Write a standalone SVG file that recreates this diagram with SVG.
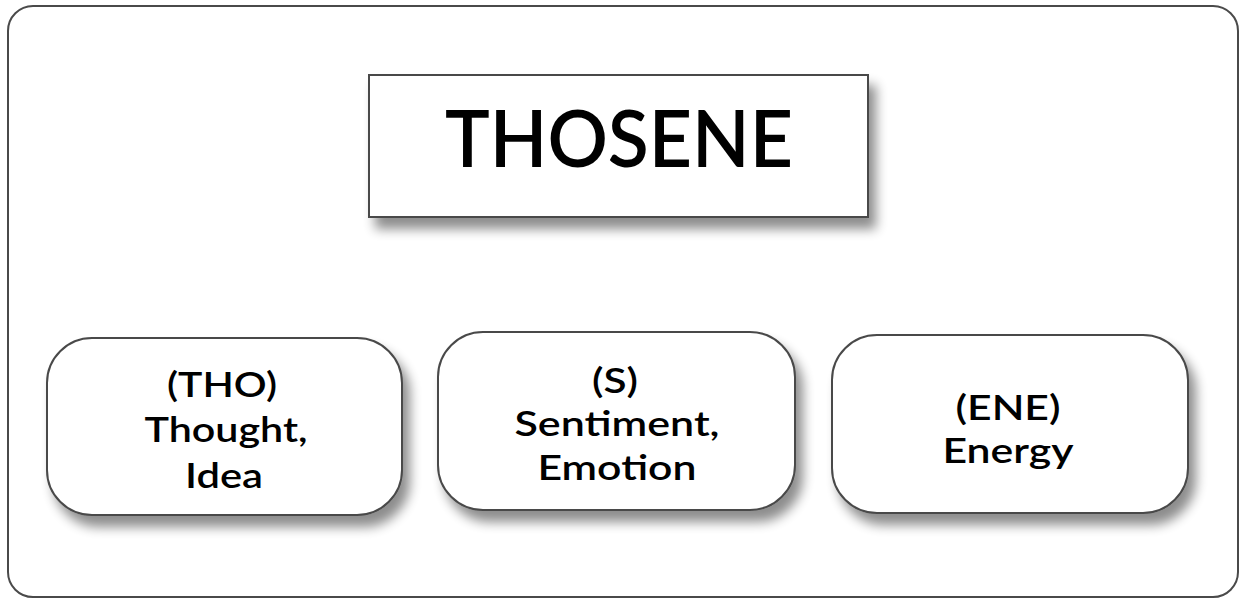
<svg xmlns="http://www.w3.org/2000/svg" width="1240" height="599" viewBox="0 0 1240 599">
<defs>
<filter id="sh" x="-10%" y="-20%" width="130%" height="150%">
<feGaussianBlur in="SourceAlpha" stdDeviation="6"/>
<feOffset dx="7" dy="11" result="b"/>
<feComponentTransfer><feFuncA type="linear" slope="0.45"/></feComponentTransfer>
<feMerge><feMergeNode/><feMergeNode in="SourceGraphic"/></feMerge>
</filter>
</defs>
<style>
.frame{fill:#fff;stroke:#4a4a4a;stroke-width:2}
.box{fill:#fff;stroke:#4a4a4a;stroke-width:2;filter:url(#sh)}
.lbl{font-family:Lato,"Liberation Sans",sans-serif;font-weight:600;font-size:35px;fill:#000;text-anchor:middle}
.title{font-family:Lato,"Liberation Sans",sans-serif;font-weight:600;font-size:79px;fill:#000;text-anchor:middle}
</style>
<rect width="1240" height="599" fill="#fff"/>
<rect class="frame" x="8" y="6" width="1230" height="591" rx="25"/>
<g id="connectors"/>
<g id="thosene">
<rect class="box" x="369" y="75" width="499" height="142"/>
<text class="title" x="619" y="167" textLength="348" lengthAdjust="spacingAndGlyphs">THOSENE</text>
</g>
<g id="tho">
<rect class="box" x="47" y="338" width="355" height="177" rx="45"/>
<text class="lbl" x="222" y="397" textLength="110" lengthAdjust="spacingAndGlyphs">(THO)</text>
<text class="lbl" x="226" y="442" textLength="163" lengthAdjust="spacingAndGlyphs">Thought,</text>
<text class="lbl" x="224" y="488" textLength="78" lengthAdjust="spacingAndGlyphs">Idea</text>
</g>
<g id="s">
<rect class="box" x="438" y="332" width="357" height="178" rx="45"/>
<text class="lbl" x="615" y="393" textLength="46" lengthAdjust="spacingAndGlyphs">(S)</text>
<text class="lbl" x="617" y="436" textLength="205" lengthAdjust="spacingAndGlyphs">Sentiment,</text>
<text class="lbl" x="617" y="480" textLength="159" lengthAdjust="spacingAndGlyphs">Emotion</text>
</g>
<g id="ene">
<rect class="box" x="832" y="335" width="356" height="178" rx="45"/>
<text class="lbl" x="1008" y="420" textLength="105" lengthAdjust="spacingAndGlyphs">(ENE)</text>
<text class="lbl" x="1008" y="463" textLength="131" lengthAdjust="spacingAndGlyphs">Energy</text>
</g>
</svg>
